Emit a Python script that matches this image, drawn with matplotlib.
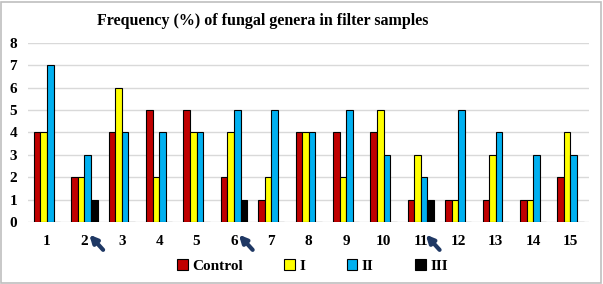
import numpy as np
import matplotlib.pyplot as plt
from matplotlib.patches import Rectangle

categories = [str(i) for i in range(1, 16)]
control = [4, 2, 4, 5, 5, 2, 1, 4, 4, 4, 1, 1, 1, 1, 2]
group_i = [4, 2, 6, 2, 4, 4, 2, 4, 2, 5, 3, 1, 3, 1, 4]
group_ii = [7, 3, 4, 4, 4, 5, 5, 4, 5, 3, 2, 5, 4, 3, 3]
group_iii = [0, 1, 0, 0, 0, 1, 0, 0, 0, 0, 1, 0, 0, 0, 0]
series_names = ['Control', 'I', 'II', 'III']
colors = ['#C00000', '#FFFF00', '#00B0F0', '#000000']
arrow_at = [2, 6, 11]

plt.rcParams['font.family'] = ['Liberation Serif', 'DejaVu Serif']
plt.rcParams['font.weight'] = 'bold'

fig = plt.figure(figsize=(6.03, 2.84), dpi=100)
ax = fig.add_axes([0.047, 0.218, 0.93, 0.631])

x = np.arange(1, 16)
w = 0.175
series = [control, group_i, group_ii, group_iii]
for k, (vals, col, name) in enumerate(zip(series, colors, series_names)):
    ax.bar(x + (k - 1.5) * w, vals, width=w, color=col, edgecolor='black',
           linewidth=0.8, label=name, zorder=3)

ax.set_xlim(0.5, 15.5)
ax.set_ylim(0, 8)
ax.set_yticks(range(0, 9))
ax.set_xticks(x)
ax.set_xticklabels(categories)
ax.tick_params(axis='both', length=0, labelsize=11)
ax.tick_params(axis='x', pad=9)
ax.tick_params(axis='y', pad=8)
for lab in ax.get_xticklabels() + ax.get_yticklabels():
    lab.set_fontweight('bold')
ax.grid(axis='y', color='#D9D9D9', linewidth=1, zorder=0)
for s in ax.spines.values():
    s.set_visible(False)

# arrows under some categories
for c in arrow_at:
    ax.annotate('', xy=(c + 0.13, -0.07), xycoords=('data', 'axes fraction'),
                xytext=(c + 0.5, -0.155), textcoords=('data', 'axes fraction'),
                arrowprops=dict(arrowstyle='-|>,head_length=0.45,head_width=0.22',
                                color='#1F3864', lw=3, shrinkA=0, shrinkB=0),
                annotation_clip=False)

fig.suptitle('Frequency (%) of fungal genera in filter samples', x=0.435, y=0.955,
             fontsize=11.5, fontweight='bold')

leg = fig.legend(loc='lower center', bbox_to_anchor=(0.518, -0.01), ncol=4,
                 frameon=False, fontsize=11, handlelength=0.7, handleheight=0.7,
                 handletextpad=0.3, columnspacing=2.7)
for t in leg.get_texts():
    t.set_fontweight('bold')

fig.patches.append(Rectangle((0.002, 0.004), 0.995, 0.99, transform=fig.transFigure,
                             fill=False, edgecolor='#BFBFBF', linewidth=1.2))

fig.savefig('out.png', dpi=100)
